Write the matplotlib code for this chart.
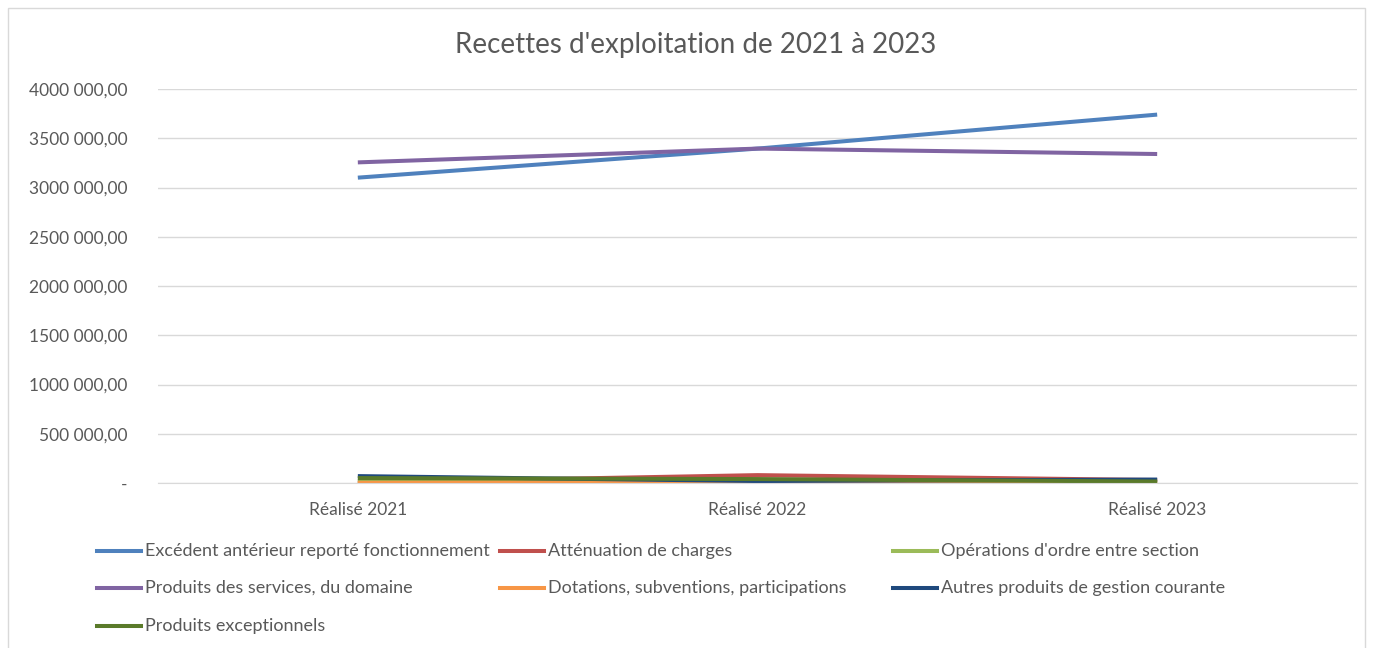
import matplotlib.pyplot as plt
from matplotlib.lines import Line2D
from matplotlib.patches import Rectangle
from matplotlib.ticker import FuncFormatter

plt.rcParams['font.family'] = ['Lato', 'DejaVu Sans']

categories = ['Réalisé 2021', 'Réalisé 2022', 'Réalisé 2023']

series_names = [
    'Excédent antérieur reporté fonctionnement',
    'Atténuation de charges',
    "Opérations d'ordre entre section",
    'Produits des services, du domaine',
    'Dotations, subventions, participations',
    'Autres produits de gestion courante',
    'Produits exceptionnels',
]

excedent = [3100000, 3395000, 3740000]
attenuation = [5000, 80000, 30000]
operations_ordre = [20000, 15000, 10000]
produits_services = [3255000, 3395000, 3340000]
dotations = [2000, 10000, 5000]
autres_produits = [70000, 20000, 35000]
produits_exceptionnels = [50000, 40000, 15000]

series_values = [excedent, attenuation, operations_ordre, produits_services,
                 dotations, autres_produits, produits_exceptionnels]
colors = ['#4F81BD', '#C0504D', '#9BBB59', '#8064A2', '#F79646', '#1F497D', '#5A7A2A']

y_ticks = [0, 500000, 1000000, 1500000, 2000000, 2500000, 3000000, 3500000, 4000000]


def fmt_value(v, pos=None):
    # French accounting-style labels, dash for zero
    if v == 0:
        return '-'
    n = int(round(v))
    head, tail = divmod(n, 1000)
    return f'{head} {tail:03d},00' if head else f'{tail},00'


fig = plt.figure(figsize=(13.73, 6.48), dpi=100)
ax = fig.add_axes([158 / 1373, 1 - 483 / 648, 1199 / 1373, 394 / 648])

x = list(range(len(categories)))
for name, vals, c in zip(series_names, series_values, colors):
    ax.plot(x, vals, color=c, lw=2.9, solid_capstyle='butt', label=name)

ax.set_xlim(-0.5, 2.5)
ax.set_ylim(0, 4000000)
ax.set_yticks(y_ticks)
ax.yaxis.set_major_formatter(FuncFormatter(fmt_value))
ax.set_xticks(x)
ax.set_xticklabels(categories)
ax.grid(axis='y', color='#D9D9D9', lw=1)
ax.set_axisbelow(True)
for side in ['top', 'right', 'left']:
    ax.spines[side].set_visible(False)
ax.spines['bottom'].set_color('#D9D9D9')
ax.tick_params(axis='both', length=0, labelsize=12.5, colors='#595959')
ax.tick_params(axis='x', pad=14)
ax.tick_params(axis='y', pad=22)

fig.text(696 / 1373, 1 - 45 / 648, "Recettes d'exploitation de 2021 à 2023",
         ha='center', va='center', fontsize=20, color='#595959')

# legend laid out in three fixed-width columns
col_x = [97, 500, 893]
row_y = [551, 588, 626]
for i, line in enumerate(ax.get_lines()):
    cx = col_x[i % 3]
    cy = row_y[i // 3]
    fig.add_artist(Line2D([cx / 1373, (cx + 44) / 1373], [1 - cy / 648, 1 - cy / 648],
                          color=line.get_color(), lw=2.9, transform=fig.transFigure))
    fig.text((cx + 48) / 1373, 1 - cy / 648, line.get_label(), ha='left', va='center',
             fontsize=13, color='#595959')

fig.add_artist(Rectangle((8 / 1373, -0.01), 1 - 16 / 1373, 1 - 8 / 648 + 0.01,
                         transform=fig.transFigure, fill=False, edgecolor='#D9D9D9', lw=1))

fig.savefig('out.png', dpi=100)
